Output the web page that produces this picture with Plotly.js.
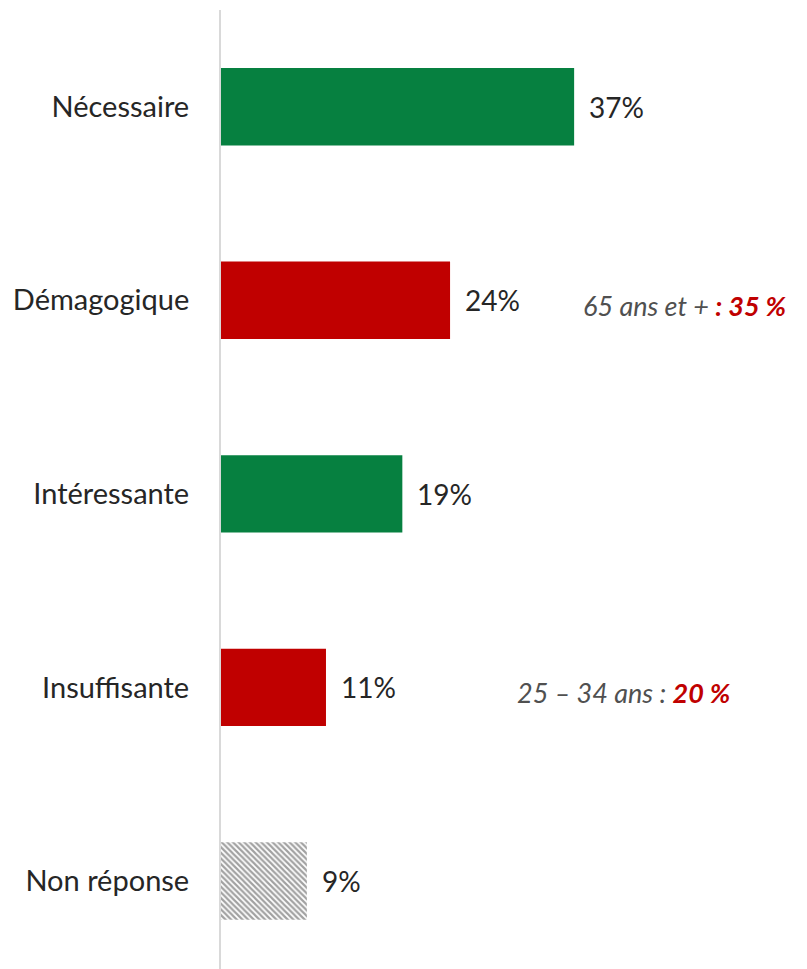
<!DOCTYPE html>
<html>
<head>
<meta charset="utf-8">
<script src="https://cdn.plot.ly/plotly-3.0.1.min.js"></script>
<style>html,body{margin:0;padding:0;background:#fff;}#chart{width:807px;height:969px;}</style>
</head>
<body>
<div id="chart"></div>
<script>
const categories = ["Nécessaire", "Démagogique", "Intéressante", "Insuffisante", "Non réponse"];
const values = [37, 24, 19, 11, 9];
const barColors = ["#068040", "#C00000", "#068040", "#C00000", "#ffffff"];
const valueLabels = ["37%", "24%", "19%", "11%", "9%"];
const noteCategories = ["Démagogique", "Insuffisante"];
const notePlain = ["65 ans et + ", "25 – 34 ans : "];
const noteBold = [": 35 %", "20 %"];
const noteX = [0.614, 0.502];

const FONT = "Lato, 'Open Sans', sans-serif";

const trace = {
  type: "bar",
  orientation: "h",
  y: categories,
  x: values,
  width: 0.4,
  marker: {
    color: barColors,
    line: {width: 0},
    pattern: {
      shape: ["", "", "", "", "\\"],
      fgcolor: "#4a4a4a",
      bgcolor: "#ffffff",
      size: 4,
      solidity: 0.55,
      fillmode: "overlay"
    }
  },
  hoverinfo: "none"
};

const annotations = [];
categories.forEach((c, i) => {
  annotations.push({
    x: values[i], y: c, xref: "x", yref: "y",
    text: valueLabels[i], showarrow: false,
    xanchor: "left", xshift: 13,
    font: {family: FONT, size: 28, color: "#262626"}
  });
});
noteCategories.forEach((c, i) => {
  annotations.push({
    x: noteX[i], xref: "paper", y: c, yref: "y", yshift: -5,
    text: "<i>" + notePlain[i] + "</i><span style='color:#C00000'><b><i>" + noteBold[i] + "</i></b></span>",
    showarrow: false, xanchor: "left", align: "left",
    font: {family: FONT, size: 27, color: "#505050"}
  });
});

const layout = {
  width: 807, height: 969,
  margin: {l: 221, r: 0, t: 10, b: 0},
  paper_bgcolor: "#ffffff", plot_bgcolor: "#ffffff",
  showlegend: false,
  xaxis: {range: [0, 61.4], showgrid: false, zeroline: false, showticklabels: false, showline: false, fixedrange: true},
  yaxis: {
    type: "category",
    range: [4.455, -0.5],
    showgrid: false, zeroline: false,
    showline: true, linecolor: "#d9d9d9", linewidth: 2,
    ticks: "outside", ticklen: 24, tickcolor: "rgba(0,0,0,0)",
    tickfont: {family: FONT, size: 29, color: "#262626"},
    fixedrange: true
  },
  annotations: annotations
};

Plotly.newPlot("chart", [trace], layout, {displayModeBar: false, staticPlot: true});
</script>
</body>
</html>
